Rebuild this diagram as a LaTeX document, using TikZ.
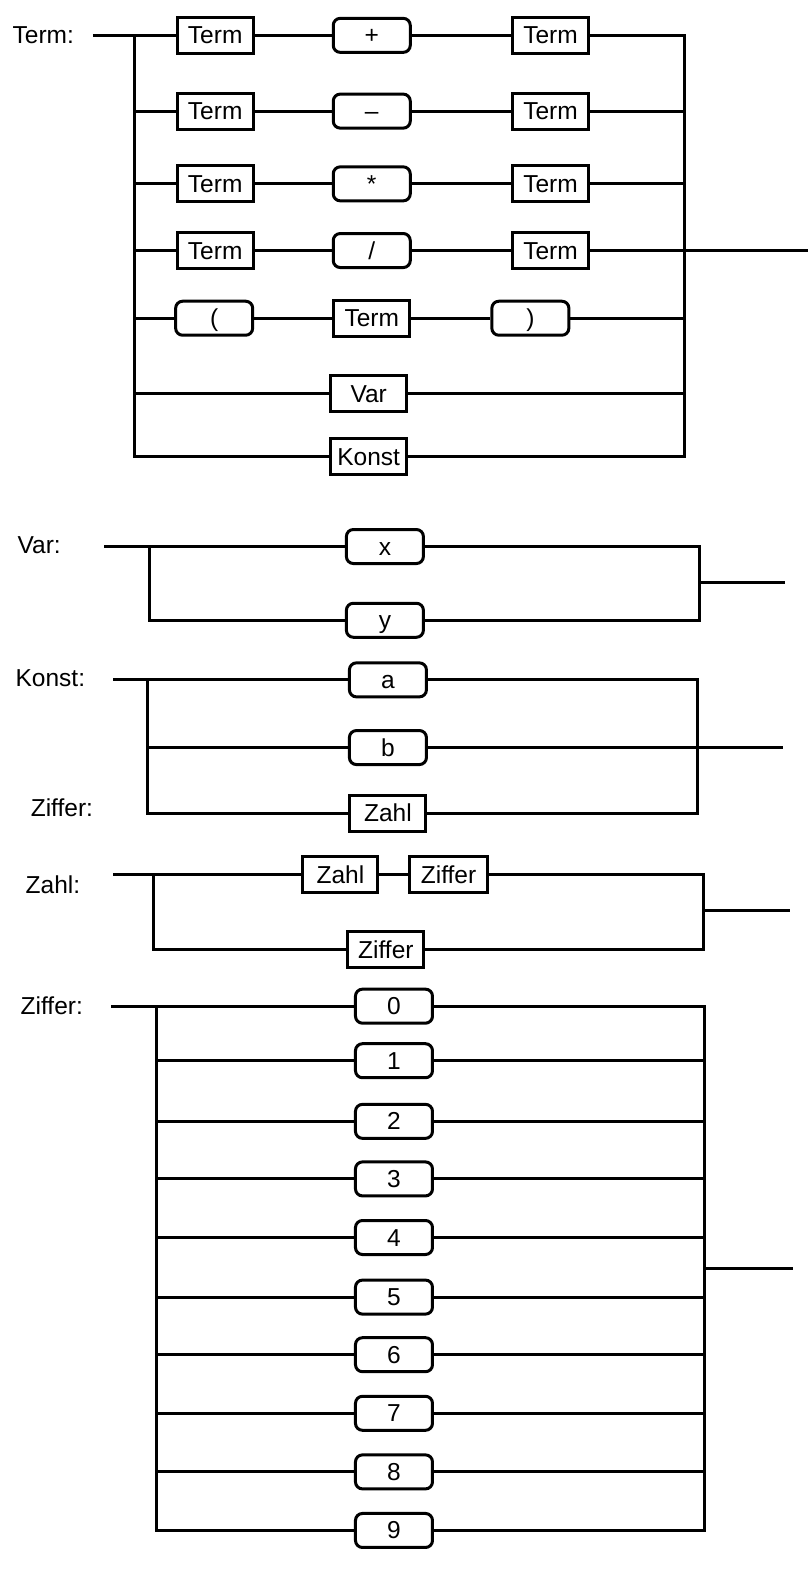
\documentclass[tikz,border=0pt]{standalone}
\usepackage{fontspec}
\setmainfont{Liberation Sans}
\begin{document}
\begin{tikzpicture}[x=1.01pt, y=-1.01pt, line width=3pt,
    nt/.style={draw, rectangle, minimum width=76pt, minimum height=36pt, inner sep=0pt,
        text height=17pt, text depth=0pt, font=\fontsize{24.5}{28}\selectfont},
    tm/.style={nt, rounded corners=7pt, minimum width=77pt, minimum height=34pt},
    lbl/.style={anchor=west, inner sep=0pt, font=\fontsize{24.5}{28}\selectfont}]
    \useasboundingbox (0,0) rectangle (800,1568);

    \node[lbl] (tlbl) at (11,35) {Term:};
    \coordinate (tin) at (92,35);
    \foreach \op/\y [count=\i] in {{+}/35, {--}/110, {*}/182, {/}/248} {
        \coordinate (tL\i) at (133,\y);
        \coordinate (tR\i) at (678,\y);
        \node[nt] (ta\i) at (213,\y) {Term};
        \node[tm] (to\i) at (368,\y) {\op};
        \node[nt] (tb\i) at (545,\y) {Term};
        \draw (tL\i) -- (ta\i) -- (to\i) -- (tb\i) -- (tR\i);
    }
    \coordinate (tL5) at (133,315);
    \coordinate (tR5) at (678,315);
    \node[tm] (lpar) at (212,315) {(};
    \node[nt] (tterm) at (368,315) {Term};
    \node[tm] (rpar) at (525,315) {)};
    \draw (tL5) -- (lpar) -- (tterm) -- (rpar) -- (tR5);
    \coordinate (tL6) at (133,390);
    \coordinate (tR6) at (678,390);
    \node[nt] (tvar) at (365,390) {Var};
    \draw (tL6) -- (tvar) -- (tR6);
    \coordinate (tL7) at (133,452);
    \coordinate (tR7) at (678,452);
    \node[nt] (tkonst) at (365,452) {Konst};
    \draw (tin) -- (tL1) -- (tL7) -- (tkonst) -- (tR7) -- (tR1) -- (tb1);
    \coordinate (tout) at (800,248);
    \draw (tR4) -- (tout);

    \node[lbl] (vlbl) at (16,540) {Var:};
    \coordinate (vin) at (103,541);
    \coordinate (vL1) at (148,541);
    \coordinate (vL2) at (148,614);
    \coordinate (vR1) at (692,541);
    \coordinate (vR2) at (692,614);
    \coordinate (vRm) at (692,577);
    \coordinate (vout) at (777,577);
    \node[tm] (vx) at (381,541) {x};
    \node[tm] (vy) at (381,614) {y};
    \draw (vin) -- (vL1) -- (vx) -- (vR1) -- (vR2) -- (vy) -- (vL2) -- (vL1);
    \draw (vRm) -- (vout);

    \node[lbl] (klbl) at (14,671) {Konst:};
    \coordinate (kin) at (112,673);
    \coordinate (kL1) at (146,673);
    \coordinate (kL2) at (146,740);
    \coordinate (kL3) at (146,805);
    \coordinate (kR1) at (690,673);
    \coordinate (kR3) at (690,805);
    \coordinate (kout) at (775,740);
    \node[tm] (ka) at (384,673) {a};
    \node[tm] (kb) at (384,740) {b};
    \node[nt] (kzahl) at (384,805) {Zahl};
    \draw (kin) -- (kL1) -- (ka) -- (kR1) -- (kR3) -- (kzahl) -- (kL3) -- (kL1);
    \draw (kL2) -- (kb) -- (kout);
    \node[lbl] (klbl2) at (29,800) {Ziffer:};

    \node[lbl] (zlbl) at (24,876) {Zahl:};
    \coordinate (zin) at (112,866);
    \coordinate (zL1) at (152,866);
    \coordinate (zL2) at (152,940);
    \coordinate (zR1) at (696,866);
    \coordinate (zR2) at (696,940);
    \coordinate (zRm) at (696,901);
    \coordinate (zout) at (782,901);
    \node[nt, minimum width=75pt] (zzahl) at (337,866) {Zahl};
    \node[nt, minimum width=78pt] (zziffer) at (444,866) {Ziffer};
    \node[nt] (zziffer2) at (382,940) {Ziffer};
    \draw (zin) -- (zL1) -- (zzahl) -- (zziffer) -- (zR1) -- (zR2) -- (zziffer2) -- (zL2) -- (zL1);
    \draw (zRm) -- (zout);

    \node[lbl] (dlbl) at (19,996) {Ziffer:};
    \coordinate (din) at (110,996);
    \foreach \y [count=\i from 0] in {996,1050,1110,1167,1225,1284,1341,1399,1457,1515} {
        \coordinate (dL\i) at (155,\y);
        \coordinate (dR\i) at (697,\y);
        \node[tm] (d\i) at (390,\y) {\i};
        \draw (dL\i) -- (d\i) -- (dR\i);
    }
    \draw (din) -- (dL0) -- (dL9) -- (d9);
    \draw (d0) -- (dR0) -- (dR9) -- (d9);
    \coordinate (dRm) at (697,1256);
    \coordinate (dout) at (785,1256);
    \draw (dRm) -- (dout);
\end{tikzpicture}
\end{document}
